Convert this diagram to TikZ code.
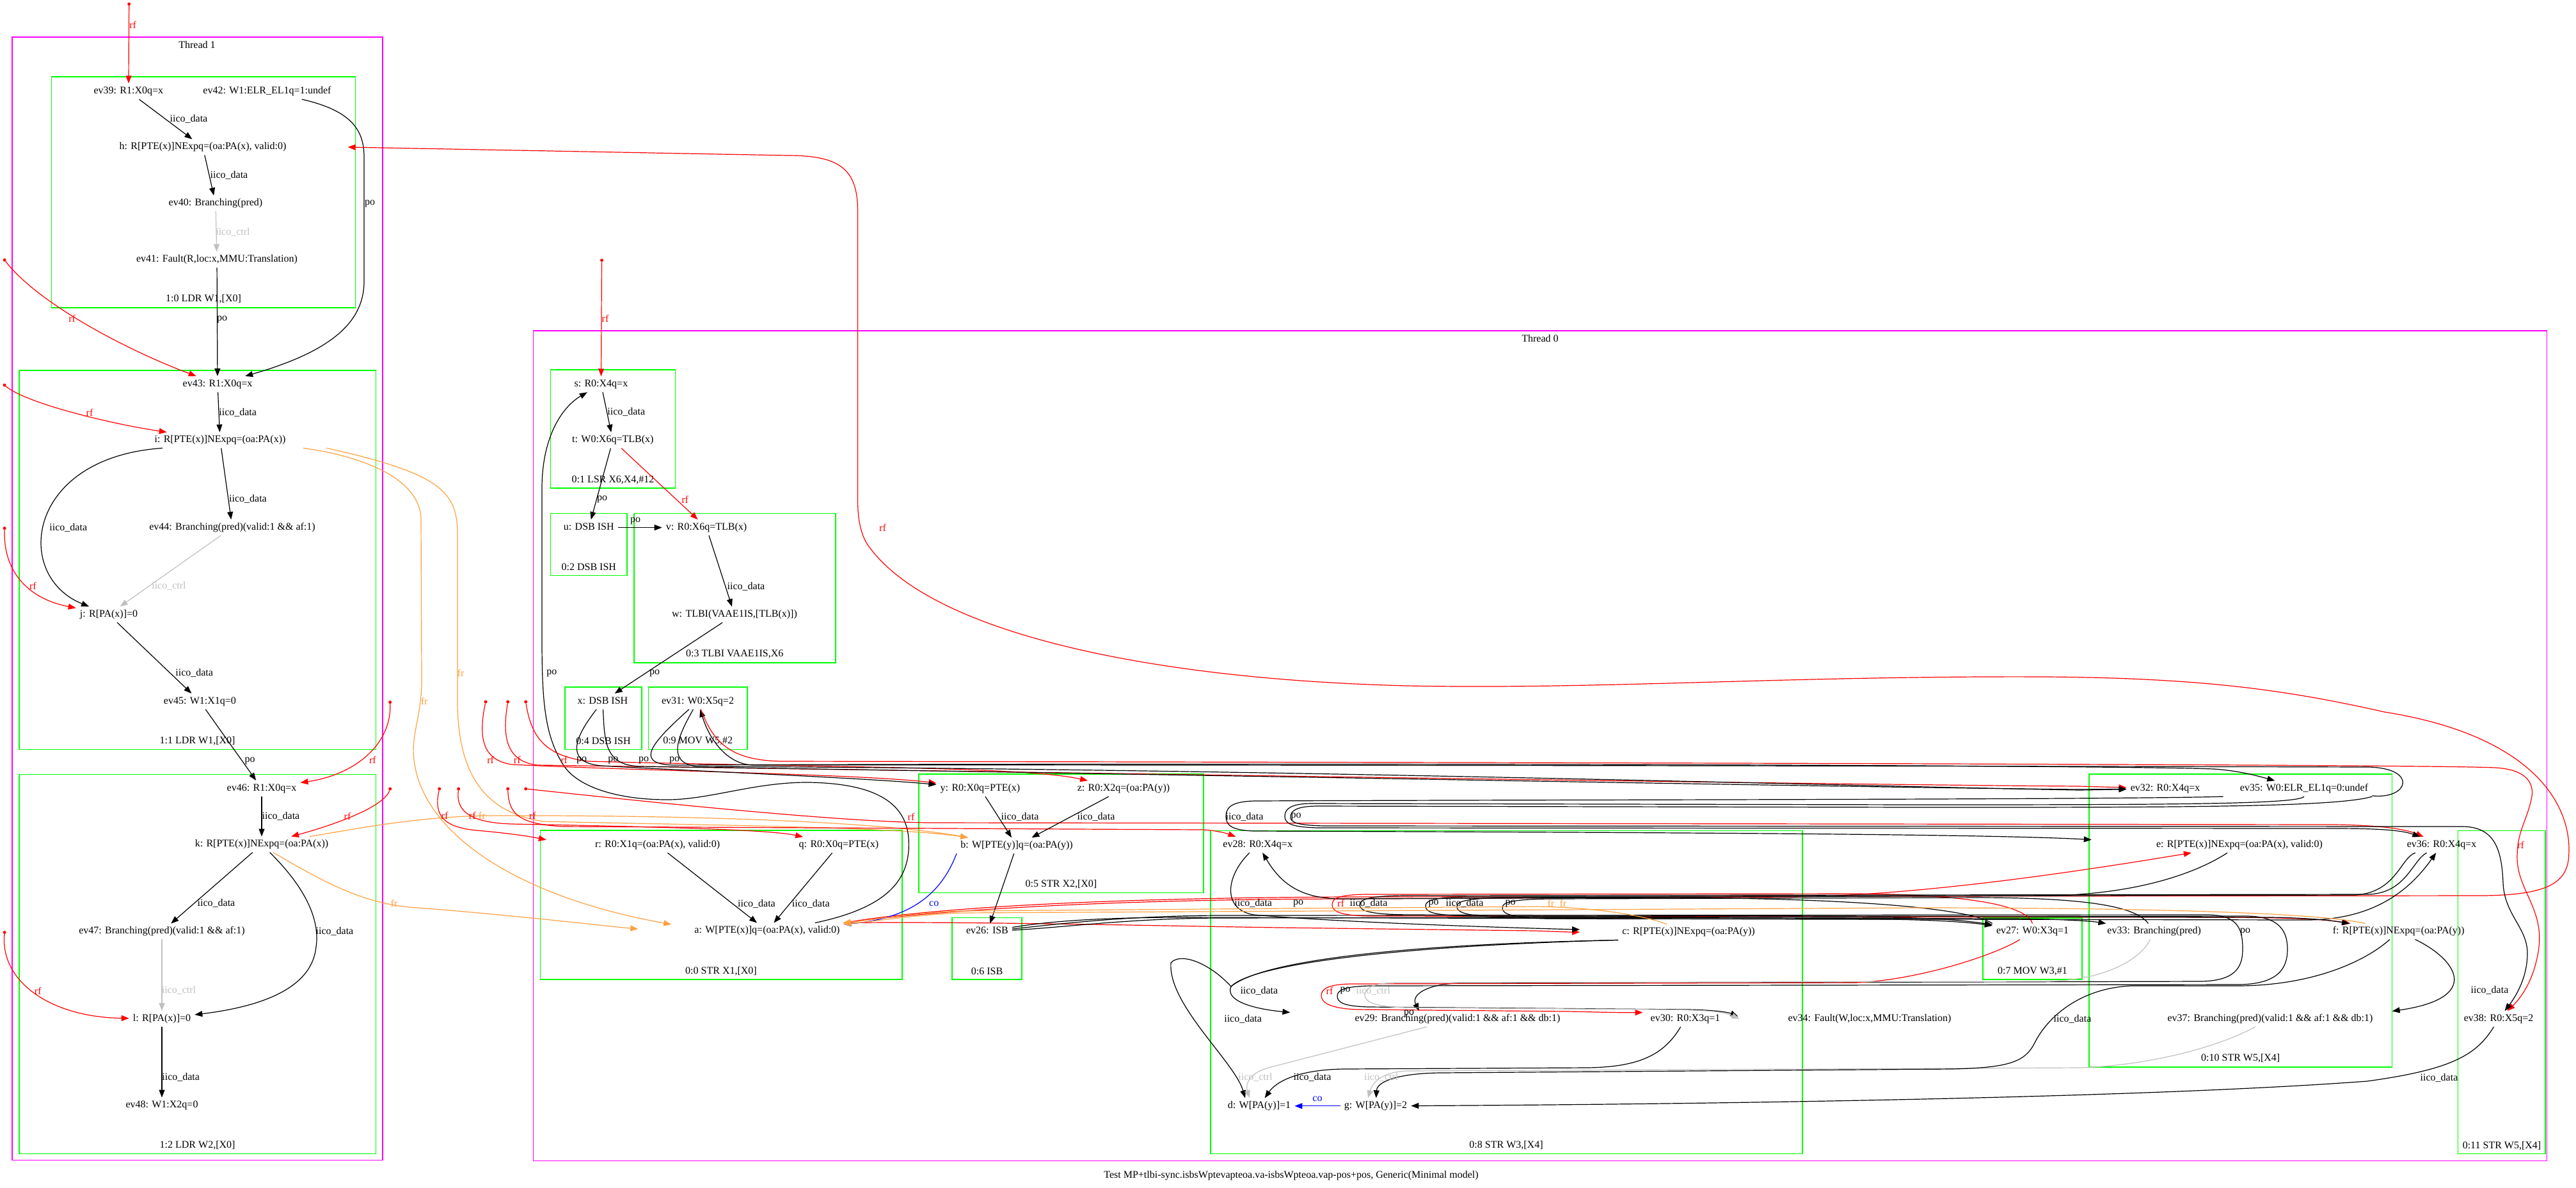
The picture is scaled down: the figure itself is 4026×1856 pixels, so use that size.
\documentclass[tikz,border=0pt]{standalone}
\usepackage{fontspec}
\setmainfont{Liberation Serif}
\usetikzlibrary{arrows.meta,calc}
\definecolor{thr}{RGB}{255,0,255}
\definecolor{ins}{RGB}{0,255,0}
\definecolor{frc}{RGB}{255,160,64}
\definecolor{ctlc}{RGB}{192,192,192}
\newcommand\gvfont{\fontsize{16}{19}\selectfont}
\begin{document}
\begin{tikzpicture}[x=1pt,y=-1pt,
  ev/.style={inner xsep=6pt,inner ysep=5pt,text height=11pt,text depth=3.5pt,font=\gvfont},
  lb/.style={inner sep=0pt,font=\gvfont},
  lbr/.style={lb,text=red},
  lbo/.style={lb,text=frc},
  lbg/.style={lb,text=ctlc},
  lbb/.style={lb,text=blue},
  ed/.style={draw=black,line width=1.2pt,-{Triangle[length=12pt,width=9pt]}},
  rfe/.style={ed,draw=red},
  fre/.style={ed,draw=frc},
  cte/.style={ed,draw=ctlc},
  coe/.style={ed,draw=blue},
  dot/.style={circle,fill=red,inner sep=0pt,minimum size=5pt},
  thrbox/.style={draw=thr,line width=1.6pt},
  insbox/.style={draw=ins,line width=1.6pt},
]
\useasboundingbox (0,0) rectangle (4026,1856);
\fill[white] (0,0) rectangle (4026,1856);

% ---------------- clusters ----------------
\draw[thrbox] (19,58.2) rectangle (598,1813.4);
\node[lb] (T1) at (308,70) {Thread 1};
\draw[insbox] (80.3,120) rectangle (555.5,480.7);
\node[lb] (I10) at (318,467) {1:0 LDR W1,[X0]};
\draw[insbox] (29.7,578.8) rectangle (587.6,1171.5);
\node[lb] (I11) at (308.6,1158) {1:1 LDR W1,[X0]};
\draw[insbox] (29.7,1210.6) rectangle (587.6,1803.6);
\node[lb] (I12) at (308.6,1790) {1:2 LDR W2,[X0]};

\draw[thrbox] (833.4,516.8) rectangle (3980.6,1814.4);
\node[lb] (T0) at (2407,529) {Thread 0};
\draw[insbox] (860.6,578.2) rectangle (1055.4,763.2);
\node[lb] (I01) at (958,750.5) {0:1 LSR X6,X4,\#12};
\draw[insbox] (860.6,802.5) rectangle (980,899.6);
\node[lb] (I02) at (920.3,886.4) {0:2 DSB ISH};
\draw[insbox] (991,802.5) rectangle (1305.7,1035.7);
\node[lb] (I03) at (1148.3,1022.5) {0:3 TLBI VAAE1IS,X6};
\draw[insbox] (883,1074) rectangle (1003,1171.4);
\node[lb] (I04) at (943,1158) {0:4 DSB ISH};
\draw[insbox] (1013.3,1074) rectangle (1168.2,1171.4);
\node[lb] (I09) at (1090.7,1158) {0:9 MOV W5,\#2};
\draw[insbox] (844.5,1298) rectangle (1410,1531);
\node[lb] (I00) at (1127,1518) {0:0 STR X1,[X0]};
\draw[insbox] (1436,1210) rectangle (1881,1395.6);
\node[lb] (I05) at (1658.5,1382.5) {0:5 STR X2,[X0]};
\draw[insbox] (1488,1434.6) rectangle (1597,1531);
\node[lb] (I06) at (1542.5,1518) {0:6 ISB};
\draw[insbox] (1892,1298.4) rectangle (2816.7,1803.4);
\node[lb] (I08) at (2354,1790) {0:8 STR W3,[X4]};
\draw[insbox] (3099,1434.7) rectangle (3254,1531.2);
\node[lb] (I07) at (3176.5,1518.8) {0:7 MOV W3,\#1};
\draw[insbox] (3264.8,1210) rectangle (3738.6,1667.7);
\node[lb] (I010) at (3501.7,1654.6) {0:10 STR W5,[X4]};
\draw[insbox] (3841.6,1298.3) rectangle (3978,1803.5);
\node[lb] (I011) at (3910,1790.8) {0:11 STR W5,[X4]};

\node[lb] (cap) at (2018,1838) {Test MP+tlbi-sync.isbsWptevapteoa.va-isbsWpteoa.vap-pos+pos, Generic(Minimal model)};

% ---------------- events, thread 1 ----------------
\node[ev] (ev39) at (200.9,142.8) {ev39: R1:X0q=x};
\node[ev] (ev42) at (417.5,142.8) {ev42: W1:ELR\_EL1q=1:undef};
\node[ev] (h) at (317,230) {h: R[PTE(x)]NExpq=(oa:PA(x), valid:0)};
\node[ev] (ev40) at (337,318) {ev40: Branching(pred)};
\node[ev] (ev41) at (339,406) {ev41: Fault(R,loc:x,MMU:Translation)};
\node[ev] (ev43) at (340,600.4) {ev43: R1:X0q=x};
\node[ev] (ni) at (344,688) {i: R[PTE(x)]NExpq=(oa:PA(x))};
\node[ev] (ev44) at (363,824.5) {ev44: Branching(pred)(valid:1 \&\& af:1)};
\node[ev] (nj) at (170,960.5) {j: R[PA(x)]=0};
\node[ev] (ev45) at (312.4,1096.4) {ev45: W1:X1q=0};
\node[ev] (ev46) at (409,1232.4) {ev46: R1:X0q=x};
\node[ev] (nk) at (409,1320) {k: R[PTE(x)]NExpq=(oa:PA(x))};
\node[ev] (ev47) at (253,1456) {ev47: Branching(pred)(valid:1 \&\& af:1)};
\node[ev] (nl) at (253,1592.4) {l: R[PA(x)]=0};
\node[ev] (ev48) at (253,1728) {ev48: W1:X2q=0};

% ---------------- events, thread 0 ----------------
\node[ev] (ns) at (939.4,600.7) {s: R0:X4q=x};
\node[ev] (nt) at (957.8,688.2) {t: W0:X6q=TLB(x)};
\node[ev] (nu) at (920.3,824.6) {u: DSB ISH};
\node[ev] (nv) at (1104,824.6) {v: R0:X6q=TLB(x)};
\node[ev] (nw) at (1148,960.7) {w: TLBI(VAAE1IS,[TLB(x)])};
\node[ev] (nx) at (941.9,1096.4) {x: DSB ISH};
\node[ev] (ev31) at (1090.5,1096.4) {ev31: W0:X5q=2};
\node[ev] (ny) at (1532,1232.7) {y: R0:X0q=PTE(x)};
\node[ev] (nz) at (1756,1232.7) {z: R0:X2q=(oa:PA(y))};
\node[ev] (nb) at (1589,1321.7) {b: W[PTE(y)]q=(oa:PA(y))};
\node[ev] (nr) at (1027.6,1320.7) {r: R0:X1q=(oa:PA(x), valid:0)};
\node[ev] (nq) at (1311,1320.7) {q: R0:X0q=PTE(x)};
\node[ev] (na) at (1199,1455) {a: W[PTE(x)]q=(oa:PA(x), valid:0)};
\node[ev] (ev26) at (1543,1456) {ev26: ISB};
\node[ev] (ev28) at (1965.7,1320.4) {ev28: R0:X4q=x};
\node[ev] (nc) at (2639,1457) {c: R[PTE(x)]NExpq=(oa:PA(y))};
\node[ev] (ev29) at (2278,1592.6) {ev29: Branching(pred)(valid:1 \&\& af:1 \&\& db:1)};
\node[ev] (ev30) at (2634,1592.6) {ev30: R0:X3q=1};
\node[ev] (ev34) at (2922,1592.6) {ev34: Fault(W,loc:x,MMU:Translation)};
\node[ev] (nd) at (1968,1728.8) {d: W[PA(y)]=1};
\node[ev] (ng) at (2150,1728.8) {g: W[PA(y)]=2};
\node[ev] (ev27) at (3176.5,1456) {ev27: W0:X3q=1};
\node[ev] (ev32) at (3384,1232.7) {ev32: R0:X4q=x};
\node[ev] (ev35) at (3601,1232.7) {ev35: W0:ELR\_EL1q=0:undef};
\node[ev] (ne) at (3500,1320.6) {e: R[PTE(x)]NExpq=(oa:PA(x), valid:0)};
\node[ev] (ev33) at (3366.7,1456) {ev33: Branching(pred)};
\node[ev] (ev37) at (3548,1592.6) {ev37: Branching(pred)(valid:1 \&\& af:1 \&\& db:1)};
\node[ev] (nf) at (3748.7,1456) {f: R[PTE(x)]NExpq=(oa:PA(y))};
\node[ev] (ev36) at (3816,1320.6) {ev36: R0:X4q=x};
\node[ev] (ev38) at (3905,1592.6) {ev38: R0:X5q=2};

% initial-state sources of rf
\node[dot] (p1) at (201.7,6.4) {};
\node[dot] (p2) at (7.1,406.4) {};
\node[dot] (p3) at (7.1,602) {};
\node[dot] (p4) at (7.1,825.7) {};
\node[dot] (p5) at (609.7,1097.6) {};
\node[dot] (p6) at (609.7,1233) {};
\node[dot] (p7) at (7.1,1457.4) {};
\node[dot] (p8) at (940.5,406.8) {};
\node[dot] (p9) at (686.7,1233) {};
\node[dot] (p10) at (716.7,1233) {};
\node[dot] (p11) at (793.7,1233) {};
\node[dot] (p12) at (821.7,1233) {};
\node[dot] (p13) at (759,1097) {};
\node[dot] (p14) at (793.7,1097) {};
\node[dot] (p15) at (821.7,1097) {};

% ---------------- edges, thread 1 ----------------
\draw[rfe] (p1) -- (ev39);
\draw[ed] (ev39) -- (h);
\draw[ed] (h) -- (ev40);
\draw[cte] (ev40) -- (ev41);
\draw[ed] (ev42) .. controls (545,172) and (569,200) .. (569,245) -- (569,440) .. controls (569,505) and (515,550) .. (ev43);
\draw[ed] (ev41) -- (ev43);
\draw[rfe] (p2) .. controls (60,475) and (200,548) .. (ev43);
\draw[ed] (ev43) -- (ni);
\draw[rfe] (p3) .. controls (40,630) and (170,662) .. (ni);
\draw[ed] (ni) -- (ev44);
\draw[ed] ([xshift=-90pt]ni.south) .. controls (40,715) and (20,900) .. (nj);
\draw[cte] (ev44) -- (nj);
\draw[rfe] (p4) .. controls (5,890) and (40,935) .. (nj);
\draw[ed] (nj) -- (ev45);
\draw[ed] (ev45) -- (ev46);
\draw[rfe] (p5) .. controls (612,1160) and (560,1210) .. (ev46);
\draw[ed] (ev46) -- (nk);
\draw[rfe] (p6) .. controls (600,1262) and (520,1290) .. (nk);
\draw[ed] (nk) -- (ev47);
\draw[ed] (nk) .. controls (480,1390) and (500,1440) .. (494,1480) .. controls (488,1540) and (420,1572) .. (nl);
\draw[cte] (ev47) -- (nl);
\draw[rfe] (p7) .. controls (0,1535) and (80,1590) .. (nl);
\draw[ed] (nl) -- (ev48);

% fr from thread 1 reads
\draw[fre] ([xshift=21pt]ni.south east) .. controls (560,712) and (655,745) .. (658,810) -- (659,1060) .. controls (660,1120) and (640,1150) .. (648,1195) .. controls (665,1300) and (800,1400) .. ([xshift=-30pt,yshift=10pt]na.west);
\draw[fre] ([xshift=58pt]ni.south east) .. controls (690,740) and (713,770) .. (715,830) -- (715,1100) .. controls (716,1200) and (750,1270) .. (850,1284) .. controls (1100,1290) and (1400,1292) .. ([xshift=18pt]nb.north west);
\draw[fre] ([xshift=75pt]nk.north) .. controls (560,1295) and (650,1277) .. (760,1275) .. controls (1000,1274) and (1350,1280) .. ([xshift=18pt]nb.north west);
\draw[fre] ([xshift=18pt]nk.south) .. controls (500,1375) and (560,1410) .. (640,1418) .. controls (800,1430) and (950,1448) .. ([xshift=-82pt,yshift=3pt]na.west);

% ---------------- edges, thread 0 ----------------
\draw[rfe] (p8) -- (ns);
\draw[ed] (ns) -- (nt);
\draw[ed] (nt) -- (nu);
\draw[rfe] (nt) -- (nv);
\draw[ed] (nu) -- (nv);
\draw[ed] (nv) -- (nw);
\draw[ed] (nw) -- (nx);
\draw[ed] ([xshift=-45pt]na.north east) .. controls (1380,1420) and (1425,1380) .. (1420,1310) .. controls (1415,1250) and (1360,1225) .. (1266,1223) .. controls (1180,1222) and (1110,1250) .. (1043,1250) .. controls (960,1250) and (900,1228) .. (880,1195) .. controls (852,1150) and (847,1100) .. (847,1000) -- (847,760) .. controls (848,680) and (880,635) .. (ns);
\draw[rfe] (na.north east) .. controls (1450,1420) and (1700,1404) .. (2100,1402) -- (3880,1400) .. controls (3970,1399) and (4008,1385) .. (4014,1345) .. controls (4024,1260) and (3960,1150) .. (3727,1113) .. controls (3580,1080) and (3450,1060) .. (3200,1058) .. controls (2800,1056) and (2500,1078) .. (2200,1072) .. controls (1800,1062) and (1450,990) .. (1355,850) .. controls (1343,830) and (1340.5,805) .. (1340.5,780) -- (1340.5,330) .. controls (1340.5,262) and (1310,243) .. (1230,243) -- ([xshift=90pt]h.east);
\draw[rfe] (na.north east) .. controls (1450,1425) and (1700,1406) .. (2100,1405) -- (2800,1402) .. controls (3000,1400) and (3250,1362) .. (ne);
\draw[rfe] (na.north east) .. controls (1500,1440) and (1800,1447) .. (2000,1450) -- (2400,1455) .. controls (2430,1456) and (2450,1457) .. ([xshift=-60pt]nc.west);
\draw[coe] (nb.south west) .. controls (1470,1400) and (1420,1436) .. (na);
\draw[ed] (nr) -- (na);
\draw[ed] (nq) -- (na);
\draw[rfe] (p9) .. controls (678,1272) and (690,1293) .. (745,1298) .. controls (790,1302) and (820,1306) .. ([xshift=-70pt,yshift=8pt]nr.west);
\draw[rfe] (p10) .. controls (712,1268) and (735,1286) .. (800,1288) .. controls (1000,1292) and (1200,1296) .. (nq);
\draw[rfe] (p11) .. controls (795,1272) and (810,1288) .. (880,1292) -- (1880,1297) .. controls (1900,1298) and (1915,1302) .. (ev28);
\draw[rfe] (p12) .. controls (1000,1252) and (1300,1284) .. (1450,1286) -- (3650,1289) .. controls (3720,1290) and (3760,1296) .. (ev36);
\draw[rfe] (p13) .. controls (748,1150) and (752,1188) .. (800,1195) .. controls (1000,1205) and (1350,1210) .. (ny);
\draw[rfe] (p14) .. controls (785,1150) and (790,1190) .. (840,1196) .. controls (1500,1205) and (2800,1226) .. (3250,1229) -- (ev32);
\draw[rfe] (p15) .. controls (830,1150) and (850,1182) .. (920,1190) .. controls (1300,1200) and (1600,1198) .. (nz);

\draw[ed] (nx) .. controls (900,1150) and (880,1192) .. (940,1197) .. controls (1100,1206) and (1350,1216) .. (ny);
\draw[ed] (nx) .. controls (945,1160) and (945,1196) .. (1000,1198) .. controls (1600,1206) and (2900,1231) .. (3250,1234) -- (ev32);
\draw[ed] (ev31) .. controls (1020,1160) and (990,1193) .. (1050,1196) .. controls (2000,1192) and (3300,1196) .. (3460,1202) .. controls (3500,1205) and (3525,1212) .. (ev35);
\draw[ed] (ev31) .. controls (1060,1150) and (1040,1193) .. (1090,1198) .. controls (2000,1202) and (2900,1229) .. (3250,1235) -- (ev32);
\draw[ed] (ev35) .. controls (3765,1250) and (3780,1200) .. (3700,1199) .. controls (3000,1197) and (1300,1195) .. (1180,1196) .. controls (1140,1197) and (1110,1160) .. (ev31);
\draw[rfe] (ev31) .. controls (1115,1160) and (1140,1188) .. (1220,1190) .. controls (2500,1192) and (3800,1195) .. (3900,1200) .. controls (3950,1203) and (3962,1225) .. (3956,1250) .. controls (3948,1285) and (3934,1300) .. (3934,1340) .. controls (3934,1390) and (3975,1420) .. (3968,1480) .. controls (3962,1530) and (3940,1560) .. (ev38);

\draw[ed] (ny) -- (nb);
\draw[ed] (nz) -- (nb);
\draw[ed] (nb) -- (ev26);

\draw[ed] ([xshift=30pt]ev32.south east) .. controls (3300,1250) and (2400,1250) .. (1960,1252) .. controls (1925,1253) and (1916,1262) .. (1916,1276) .. controls (1916,1290) and (1925,1298) .. (1960,1299) .. controls (2500,1301) and (3100,1303) .. ([xshift=-95pt,yshift=8pt]ne.west);
\draw[ed] (ev35.south) .. controls (3590,1257) and (3400,1258) .. (3000,1258) -- (2050,1256) .. controls (2015,1256) and (2008,1266) .. (2008,1276) .. controls (2008,1287) and (2018,1293) .. (2060,1294) -- (3650,1295) .. controls (3720,1295) and (3755,1298) .. (ev36);
\draw[ed] (ev35.south east) .. controls (3650,1262) and (3400,1262) .. (3000,1262) -- (2060,1260) .. controls (2025,1260) and (2017,1268) .. (2017,1277) .. controls (2017,1285) and (2025,1290) .. (2070,1291) -- (3850,1292) .. controls (3900,1293) and (3910,1330) .. (3912,1380) .. controls (3914,1430) and (3950,1450) .. (3950,1490) .. controls (3950,1530) and (3930,1560) .. (ev38);

\draw[ed] (ev26) .. controls (1640,1440) and (1720,1434) .. (1850,1434) -- (2950,1437) .. controls (3030,1438) and (3080,1442) .. (ev27);
\draw[ed] (ev26) .. controls (1650,1445) and (1750,1432) .. (1900,1431) -- (3450,1430) .. controls (3500,1430) and (3505,1455) .. (3505,1484) .. controls (3505,1515) and (3490,1533) .. (3440,1534) -- (2280,1537) .. controls (2230,1538) and (2205,1555) .. ([xshift=-60pt]ev29.north);
\draw[ed] (ev26) .. controls (1660,1450) and (1760,1436) .. (1900,1435) -- (3510,1432) .. controls (3565,1432) and (3575,1458) .. (3575,1484) .. controls (3575,1514) and (3560,1538) .. (3500,1539) -- (2140,1541) .. controls (2100,1542) and (2090,1548) .. (2090,1557) .. controls (2090,1567) and (2100,1573) .. (2140,1574) -- (2640,1578) .. controls (2680,1579) and (2700,1582) .. ([xshift=-72pt,yshift=4pt]ev34.west);

\draw[ed] (ev28) .. controls (1915,1370) and (1910,1422) .. (1960,1430) .. controls (2100,1442) and (2350,1450) .. ([xshift=-60pt,yshift=4pt]nc.west);
\draw[ed] (ev27.north west) .. controls (3080,1420) and (2900,1404) .. (2600,1403) -- (2100,1405) .. controls (2030,1406) and (2000,1378) .. (ev28);
\draw[rfe] (ev27.north) .. controls (3170,1420) and (3100,1398) .. (2900,1397) -- (2140,1398) .. controls (2090,1398) and (2082,1405) .. (2082,1414) .. controls (2082,1424) and (2092,1431) .. (2140,1432) -- (3500,1434) .. controls (3600,1435) and (3640,1438) .. (nf);
\draw[ed] (ev36) .. controls (3770,1345) and (3760,1397) .. (3700,1398) -- (2200,1400) .. controls (2140,1400) and (2125,1406) .. (2125,1414) .. controls (2125,1424) and (2140,1429) .. (2200,1430) -- (3550,1434) .. controls (3620,1435) and (3650,1440) .. (nf);
\draw[ed] (ev36) .. controls (3752,1340) and (3745,1396) .. (3680,1399) -- (2300,1402) .. controls (2240,1402) and (2228,1408) .. (2228,1416) .. controls (2228,1426) and (2240,1431) .. (2300,1432) -- (2950,1434) .. controls (3030,1435) and (3080,1440) .. (ev27);
\draw[ed] (ne) .. controls (3440,1360) and (3350,1398) .. (3200,1400) -- (2360,1403) .. controls (2290,1404) and (2277,1409) .. (2277,1417) .. controls (2277,1426) and (2290,1433) .. (2360,1434) -- (3150,1436) .. controls (3230,1437) and (3270,1440) .. (ev33);
\draw[ed] (ev33) .. controls (3340,1420) and (3280,1404) .. (3100,1403) -- (2420,1405) .. controls (2360,1406) and (2348,1411) .. (2348,1419) .. controls (2348,1428) and (2360,1435) .. (2420,1436) -- (3600,1438) .. controls (3700,1439) and (3760,1400) .. (ev36);
\draw[fre] (nc) .. controls (2560,1428) and (2480,1418) .. (2400,1417) -- (1500,1424) .. controls (1420,1428) and (1370,1437) .. (na);
\draw[fre] (nf) .. controls (3620,1425) and (3300,1419) .. (3000,1419) -- (1500,1427) .. controls (1420,1431) and (1370,1440) .. (na);

\draw[ed] (nc.south west) .. controls (2200,1478) and (1960,1505) .. (1924,1542) .. controls (1915,1562) and (1950,1576) .. ([xshift=-95pt,yshift=10pt]ev29.west);
\draw[ed] (nc.south west) .. controls (2200,1476) and (1975,1500) .. (1924,1542) .. controls (1890,1505) and (1845,1488) .. (1830,1505) .. controls (1825,1570) and (1930,1660) .. ([xshift=-22pt]nd.north);
\draw[rfe] (ev27) .. controls (3120,1492) and (3000,1532) .. (2900,1536) -- (2110,1538) .. controls (2075,1539) and (2065,1546) .. (2065,1556) .. controls (2065,1568) and (2080,1576) .. (2120,1578) -- (2450,1581) .. controls (2500,1582) and (2530,1583) .. ([xshift=-6pt,yshift=10pt]ev30.west);
\draw[cte] (ev33) .. controls (3345,1500) and (3290,1532) .. (3200,1534) -- (2180,1536) .. controls (2145,1537) and (2133,1545) .. (2133,1555) .. controls (2133,1567) and (2150,1574) .. (2200,1575) -- (2600,1578) .. controls (2660,1579) and (2690,1580) .. ([xshift=-70pt]ev34.west);

\draw[ed] (ev30) .. controls (2600,1650) and (2560,1668) .. (2480,1669) -- (2100,1671) .. controls (2030,1672) and (1995,1690) .. (nd);
\draw[cte] (ev29) -- (1990,1667) .. controls (1952,1675) and (1946,1695) .. ([xshift=-15pt]nd.north);
\draw[cte] (ev37) .. controls (3460,1640) and (3350,1666) .. (3250,1669) -- (2200,1674) .. controls (2160,1675) and (2145,1692) .. ([xshift=-12pt]ng.north);
\draw[ed] (nf) .. controls (3700,1500) and (3620,1540) .. (3500,1541) -- (3330,1541) .. controls (3250,1545) and (3200,1590) .. (3180,1630) .. controls (3165,1660) and (3140,1669) .. (3050,1671) -- (2250,1677) .. controls (2180,1678) and (2152,1692) .. (ng);
\draw[ed] (ev38) .. controls (3870,1650) and (3830,1672) .. (3700,1690) .. controls (3300,1720) and (2500,1727) .. (ng);
\draw[coe] (ng) -- (nd);
\draw[ed] (nf) .. controls (3840,1500) and (3880,1560) .. ([xshift=24pt,yshift=12pt]ev37.east);

% ---------------- edge labels, thread 1 ----------------
\node[lbr] (L1) at (207.6,38.6) {rf};
\node[lb] (L2) at (295,186) {iico\_data};
\node[lb] (L3) at (358,274) {iico\_data};
\node[lbg] (L4) at (364,362.5) {iico\_ctrl};
\node[lb] (L5) at (578,318.5) {po};
\node[lb] (L6) at (347,499) {po};
\node[lbr] (L7) at (112.7,498) {rf};
\node[lb] (L8) at (371.7,644.5) {iico\_data};
\node[lbr] (L9) at (140,644.5) {rf};
\node[lb] (L10) at (387.5,780.4) {iico\_data};
\node[lb] (L11) at (106.8,824.5) {iico\_data};
\node[lbg] (L12) at (264,916) {iico\_ctrl};
\node[lbr] (L13) at (51.4,916) {rf};
\node[lb] (L14) at (303.7,1052) {iico\_data};
\node[lb] (L15) at (390.6,1189) {po};
\node[lbr] (L16) at (582.4,1188) {rf};
\node[lb] (L17) at (439,1276) {iico\_data};
\node[lbr] (L18) at (543,1276) {rf};
\node[lb] (L19) at (338,1412) {iico\_data};
\node[lb] (L20) at (523,1456) {iico\_data};
\node[lbg] (L21) at (279.5,1548.4) {iico\_ctrl};
\node[lbr] (L22) at (59.3,1548.4) {rf};
\node[lb] (L23) at (282.7,1684) {iico\_data};
\node[lbo] (L24) at (663.3,1096.3) {fr};
\node[lbo] (L25) at (720,1052) {fr};
\node[lbo] (L26) at (753.3,1275) {fr};
\node[lbo] (L27) at (616,1412) {fr};

% ---------------- edge labels, thread 0 ----------------
\node[lbr] (M1) at (946,498) {rf};
\node[lb] (M2) at (978.8,644.3) {iico\_data};
\node[lb] (M3) at (941,780.7) {po};
\node[lbr] (M4) at (1070.7,780.7) {rf};
\node[lb] (M5) at (993,814) {po};
\node[lb] (M6) at (1166,916.8) {iico\_data};
\node[lb] (M7) at (1023,1052.8) {po};
\node[lb] (M8) at (862.4,1052.8) {po};
\node[lbr] (M9) at (1379.5,824.6) {rf};
\node[lbr] (M10) at (766.7,1187.5) {rf};
\node[lbr] (M11) at (808.3,1187.5) {rf};
\node[lbr] (M12) at (881.7,1187.5) {rf};
\node[lb] (M13) at (909,1188.5) {po};
\node[lb] (M14) at (958.4,1188.5) {po};
\node[lb] (M15) at (1006,1188.5) {po};
\node[lb] (M16) at (1054,1188.5) {po};
\node[lbr] (M17) at (695,1275) {rf};
\node[lbr] (M18) at (738.3,1275) {rf};
\node[lbr] (M19) at (832.3,1275) {rf};
\node[lbr] (M20) at (1424,1276.7) {rf};
\node[lb] (M21) at (1182.5,1412.5) {iico\_data};
\node[lb] (M22) at (1267.3,1412.5) {iico\_data};
\node[lbb] (M23) at (1459.7,1413) {co};
\node[lb] (M24) at (1594,1276.7) {iico\_data};
\node[lb] (M25) at (1713,1276.7) {iico\_data};
\node[lb] (M26) at (1945,1276.7) {iico\_data};
\node[lb] (M27) at (2025.7,1276.7) {po};
\node[lb] (M28) at (1958.7,1412) {iico\_data};
\node[lb] (M29) at (2029,1412) {po};
\node[lbr] (M30) at (2095.5,1412) {rf};
\node[lb] (M31) at (2139,1412) {iico\_data};
\node[lb] (M32) at (2240.7,1412) {po};
\node[lb] (M33) at (2289,1412) {iico\_data};
\node[lb] (M34) at (2360.7,1412) {po};
\node[lbo] (M35) at (2423.8,1412) {fr};
\node[lbo] (M36) at (2442.8,1412) {fr};
\node[lb] (M37) at (1967.8,1548.8) {iico\_data};
\node[lbr] (M38) at (2078,1548.8) {rf};
\node[lb] (M39) at (2102.5,1548.8) {po};
\node[lbg] (M40) at (2146,1548.8) {iico\_ctrl};
\node[lb] (M41) at (1942.6,1592.6) {iico\_data};
\node[lb] (M42) at (2202,1584) {po};
\node[lbg] (M43) at (1962,1684) {iico\_ctrl};
\node[lb] (M44) at (2051,1684) {iico\_data};
\node[lbg] (M45) at (2158.7,1684) {iico\_ctrl};
\node[lbb] (M46) at (2059,1717.8) {co};
\node[lb] (M47) at (3509,1456) {po};
\node[lb] (M48) at (3891,1548) {iico\_data};
\node[lb] (M49) at (3239,1592.6) {iico\_data};
\node[lb] (M50) at (3812,1684.7) {iico\_data};
\node[lbr] (M51) at (3939.7,1320.6) {rf};
\end{tikzpicture}
\end{document}
